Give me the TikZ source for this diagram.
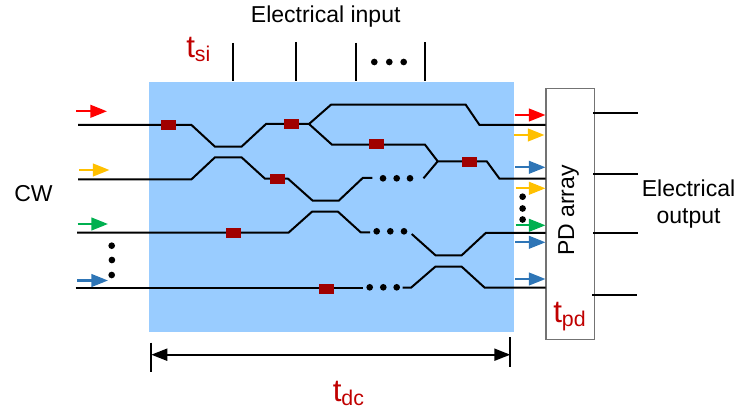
\documentclass[tikz,border=0pt]{standalone}
\usepackage{fontspec}
\setmainfont{Liberation Sans}
\usetikzlibrary{arrows.meta}
\definecolor{chipblue}{HTML}{99CCFF}
\definecolor{modred}{HTML}{A00000}
\definecolor{timered}{HTML}{C00000}
\definecolor{lred}{HTML}{FF0000}
\definecolor{lyellow}{HTML}{FFC000}
\definecolor{lgreen}{HTML}{00B050}
\definecolor{lblue}{HTML}{2E75B6}
\tikzset{
  wg/.style={line width=1.5pt,black,line join=miter},
  tick/.style={line width=1.5pt,black},
  light/.style={line width=1.7pt,-{Triangle[length=12.5pt,width=9.5pt]}},
  modbox/.style={fill=modred,draw=none,minimum width=11.25pt,minimum height=7.5pt,inner sep=0pt},
  dotb/.style={circle,fill=black,draw=none,minimum size=5pt,inner sep=0pt},
  lab/.style={font=\fontsize{17.25}{20.5}\selectfont,inner sep=0pt,align=center,text=black},
  timelab/.style={text=timered,inner sep=0pt,anchor=base west}
}
\newcommand{\tlab}[2]{{\fontsize{23.5}{26}\selectfont #1}\raisebox{-3pt}{\fontsize{16}{18}\selectfont #2}}
\begin{document}
\begin{tikzpicture}[x=0.75pt,y=-0.75pt]
\useasboundingbox (0,0) rectangle (738,413);
% chip
\node[fill=chipblue,draw=none,minimum width=274.1pt,minimum height=187.9pt,inner sep=0pt,anchor=north west] (chip) at (148.5,81.5) {};
% electrical input ticks
\foreach \x/\y in {233/43,296/42,355.5/43,425/42.5}{
  \draw[tick] (\x,\y) -- (\x,81.5);
}
\foreach \n/\x in {a/374.3,b/389.3,c/403.7}{\node[dotb] (top\n) at (\x,62) {};}
% PD array
\node[fill=white,draw=black!55,line width=1pt,minimum width=36.2pt,minimum height=188.5pt,inner sep=0pt,anchor=north west] (pd) at (545.4,87.7) {};
% waveguides
\draw[wg] (78,125) -- (191.5,125) -- (215,146.7) -- (241.5,146.7) -- (266,124) -- (309,124) -- (331,104.7) -- (465.7,104.7) -- (479.5,125) -- (545.7,125);
\draw[wg] (309,124) -- (332,144.7) -- (425,144.7) -- (437.7,161.3) -- (486.7,161.3) -- (499.5,178.7) -- (545.7,178.7);
\draw[wg] (423.5,178.3) -- (437.7,161.3);
\draw[wg] (78,179.3) -- (191.5,179.3) -- (215,157.3) -- (241.5,157.3) -- (265,178.7) -- (288,178.7) -- (312.7,200.7) -- (338.7,200.7) -- (362.7,178) -- (372.3,178);
\draw[wg] (77,232.7) -- (288.5,232.7) -- (312,211.7) -- (338,211.7) -- (360.7,232.3) -- (370,232.3);
\draw[wg] (411.7,234) -- (435.5,255.3) -- (461.7,255.3) -- (485.7,233) -- (545.7,233);
\draw[wg] (75.5,287.7) -- (363.3,287.7);
\draw[wg] (402.7,287.7) -- (411,287.7) -- (435.3,266.7) -- (461.7,266.7) -- (484.7,287.7) -- (545.7,287.7);
% modulators
\foreach \n/\x/\y in {a/168.5/125,b/291.5/124,c/277.5/179,d/233.5/233,e/376.5/144.5,f/469.5/161.8,g/326.5/289}{
  \node[modbox] (mod\n) at (\x,\y) {};
}
% waveguide dots
\foreach \n/\x/\y in {a/383/178.3,b/396.7/178.3,c/410/178.3,d/376.7/231.3,e/390.3/231.3,f/404/231.3,g/369.7/287.3,h/383.3/287.3,i/396.7/287.3,j/111.7/245.7,k/111.9/260,l/111.7/275}{
  \node[dotb] (dot\n) at (\x,\y) {};
}
% input light
\draw[light,lred] (76,111.3) -- (107,111.3);
\draw[light,lyellow] (79,170) -- (109.5,170);
\draw[light,lgreen] (77.5,224) -- (108,224);
\draw[light,lblue] (77,280.5) -- (108,280.5);
% output light
\draw[light,lred] (515,115) -- (545.5,115);
\draw[light,lyellow] (514,135) -- (544.5,135);
\draw[light,lblue] (515,167.3) -- (545.5,167.3);
\draw[light,lyellow] (515.5,188.3) -- (545.5,188.3);
\draw[light,lgreen] (515.5,225.3) -- (545.5,225.3);
\draw[light,lblue] (515,242.3) -- (545.5,242.3);
\draw[light,lblue] (515,279) -- (545.5,279);
\foreach \n/\y in {a/196.7,b/208.5,c/219.5}{\node[dotb] (rdot\n) at (522.6,\y) {};}
% outputs
\draw[tick] (593,113.3) -- (637.5,113.3);
\draw[tick] (593,173.7) -- (637.5,173.7);
\draw[tick] (593,232.7) -- (637.5,232.7);
\draw[tick] (592,294.5) -- (636.5,294.5);
% bottom dimension
\coordinate (dl) at (151.3,354.7);
\coordinate (dr) at (510.3,354.7);
\draw[tick] (151.3,342.7) -- (151.3,372.3);
\draw[tick] (510.3,337.3) -- (510.3,367.3);
\draw[line width=1.5pt,{Stealth[length=12pt,width=9pt,inset=0pt]}-{Stealth[length=12pt,width=9pt,inset=0pt]}] (dl) -- (dr);
% labels
\node[lab] (einput) at (325.7,17) {Electrical input};
\node[lab] (cw) at (33.5,194) {CW};
\node[lab] (eoutput) at (688.5,204) {Electrical\\output};
\node[lab,rotate=90] (pdlab) at (568.5,210.5) {PD array};
\node[timelab] (tsi) at (186,58) {\tlab{t}{si}};
\node[timelab] (tpd) at (553,322.7) {\tlab{t}{pd}};
\node[timelab] (tdc) at (332.5,401) {\tlab{t}{dc}};
\end{tikzpicture}
\end{document}
